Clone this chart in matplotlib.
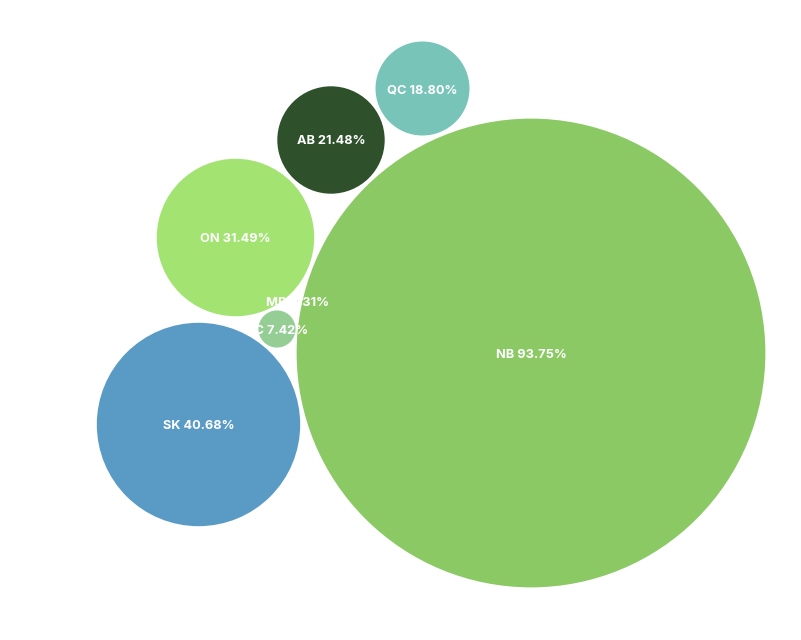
import matplotlib.pyplot as plt
from matplotlib.patches import Circle

# Data
provinces = ["NB", "SK", "ON", "AB", "QC", "BC", "MB"]
shares = [93.75, 40.68, 31.49, 21.48, 18.80, 7.42, 0.31]
colors = ["#8bc965", "#5a9bc6", "#a3e372", "#2e512b", "#78c4b9", "#94ce94", "#8bc965"]

# packed layout positions (pixel space)
centers = [(531, 353), (198.5, 424.5), (235.5, 237.5), (331, 140),
           (422.5, 88.5), (277, 329), (297, 301)]
scale = 2.5  # radius in px per percent

fig = plt.figure(figsize=(8.01, 6.40), dpi=100)
ax = fig.add_axes([0, 0, 1, 1])
ax.set_xlim(0, 801)
ax.set_ylim(640, 0)
ax.set_aspect("equal")
ax.axis("off")

for name, val, col, (cx, cy) in zip(provinces, shares, colors, centers):
    ax.add_patch(Circle((cx, cy), val * scale, facecolor=col, edgecolor="none"))

for name, val, (cx, cy) in zip(provinces, shares, centers):
    ax.text(cx, cy + 1.5, f"{name} {val:.2f}%", color="white", fontsize=9.2,
            fontweight="bold", family=["Inter", "DejaVu Sans"],
            ha="center", va="center")

fig.savefig("out.png", dpi=100)
